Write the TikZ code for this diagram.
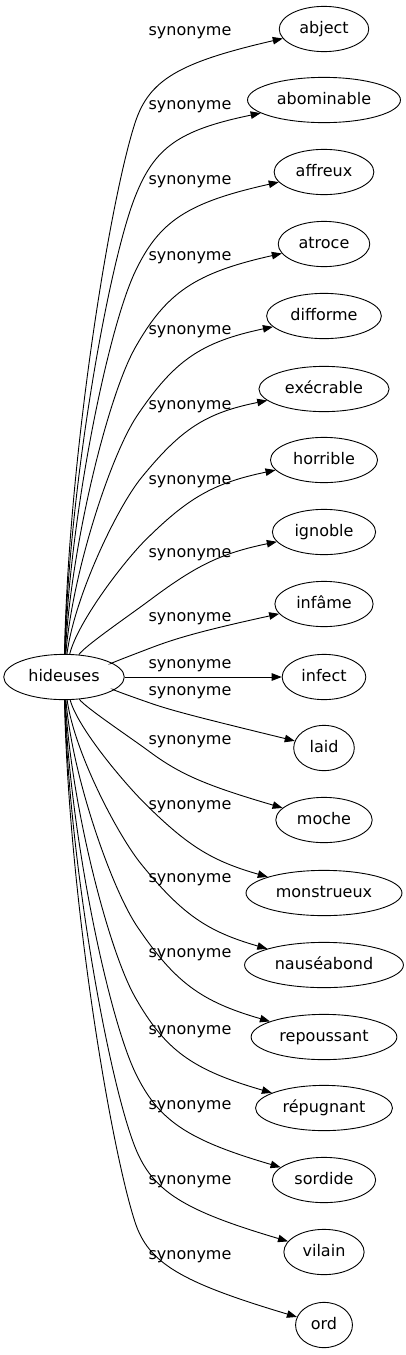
\documentclass[tikz,border=0pt]{standalone}
\usepackage{fontspec}
\setmainfont{DejaVu Sans}
\usetikzlibrary{arrows.meta,calc,shapes.geometric}
\tikzset{
  mot/.style={draw,ellipse,inner xsep=7pt,inner ysep=8pt,text height=12pt,text depth=4pt},
  rel/.style={-{Triangle[length=10pt,width=7.5pt]}},
}
\begin{document}
\begin{tikzpicture}[x=1pt,y=-1pt,line width=0.9pt,font=\fontsize{16}{19}\selectfont]
\useasboundingbox (0,0) rectangle (406,1355);
\node[mot] (h) at (64,677) {hideuses};
%au-dessus
\foreach \n/\w/\ty/\ly in {1/abject/29/33,2/abominable/100/107,3/affreux/172/182,4/atroce/244/258,5/difforme/316/332,6/exécrable/389/407,7/horrible/460/482,8/ignoble/532/555,9/infâme/604/619}{
  \node[mot] (s\n) at (324,\ty) {\w};
  \node (l\n) at (190,\ly) {synonyme};
  \pgfmathsetmacro\dd{677-\ty}
  \pgfmathsetmacro\kk{min(1,max(0,(\dd-146)/250))}
  \pgfmathsetmacro\bx{150-15*\kk}
  \pgfmathsetmacro\by{\ly+min(45,0.4*\dd)+45*\kk}
  \pgfmathsetmacro\ang{17+55*sqrt(max(\dd-70,0)/578)}
  \pgfmathsetmacro\arr{min(15,\ang-5)}
  \pgfmathsetmacro\cx{64+40*74/\dd}
  \pgfmathsetmacro\cy{\by+0.6*(677-\by)}
  \pgfmathsetmacro\lone{0.12*(677-\by)+15}
  \pgfpointanchor{s\n}{188}\pgfgetlastxy{\xw}{\yw}
  \pgfmathsetmacro\xw{\xw}
  \pgfmathsetmacro\yw{-\yw}
  \pgfmathsetmacro\sq{((\xw-\bx)*sin(\arr)+(\yw-\by)*cos(\arr))/(cos(\ang)*sin(\arr)-sin(\ang)*cos(\arr)+0.0001)}
  \pgfmathsetmacro\sq{abs(\sq)}
  \draw[rel] (h) .. controls (\cx,\cy) and ({\bx-\lone*cos(\ang)},{\by+\lone*sin(\ang)}) .. (\bx,\by)
    .. controls ({\bx+0.8*\sq*cos(\ang)},{\by-0.8*\sq*sin(\ang)}) and ({0.2*\xw+0.8*(\bx+\sq*cos(\ang))},{0.2*\yw+0.8*(\by-\sq*sin(\ang))}) .. (s\n);
}
%infect
\node[mot] (s10) at (324,677) {infect};
\node (l10) at (190,666) {synonyme};
\draw[rel] (h) -- (s10);
%au-dessous
\foreach \n/\w/\ty/\ly in {11/laid/748/693,12/moche/820/742,13/monstrueux/893/807,14/nauséabond/965/880,15/repoussant/1037/955,16/répugnant/1108/1032,17/sordide/1180/1107,18/vilain/1252/1182,19/ord/1325/1257}{
  \node[mot] (s\n) at (324,\ty) {\w};
  \node (l\n) at (190,\ly) {synonyme};
  \pgfmathsetmacro\dd{\ty-677}
  \pgfmathsetmacro\kk{min(1,max(0,(\dd-146)/250))}
  \pgfmathsetmacro\bx{150-15*\kk}
  \pgfmathsetmacro\by{\ly+10-45*\kk}
  \pgfmathsetmacro\ang{17+55*sqrt(max(\dd-70,0)/578)}
  \pgfmathsetmacro\arr{min(17,\ang-6)}
  \pgfmathsetmacro\cx{64+40*74/\dd}
  \pgfmathsetmacro\cy{\by-0.6*(\by-677)}
  \pgfmathsetmacro\lone{0.12*(\by-677)+15}
  \pgfpointanchor{s\n}{165}\pgfgetlastxy{\xw}{\yw}
  \pgfmathsetmacro\xw{\xw}
  \pgfmathsetmacro\yw{-\yw}
  \pgfmathsetmacro\sq{((\xw-\bx)*sin(\arr)-(\yw-\by)*cos(\arr))/(cos(\ang)*sin(\arr)-sin(\ang)*cos(\arr)+0.0001)}
  \pgfmathsetmacro\sq{abs(\sq)}
  \draw[rel] (h) .. controls (\cx,\cy) and ({\bx-\lone*cos(\ang)},{\by-\lone*sin(\ang)}) .. (\bx,\by)
    .. controls ({\bx+0.8*\sq*cos(\ang)},{\by+0.8*\sq*sin(\ang)}) and ({0.2*\xw+0.8*(\bx+\sq*cos(\ang))},{0.2*\yw+0.8*(\by+\sq*sin(\ang))}) .. (s\n);
}
\end{tikzpicture}
\end{document}
